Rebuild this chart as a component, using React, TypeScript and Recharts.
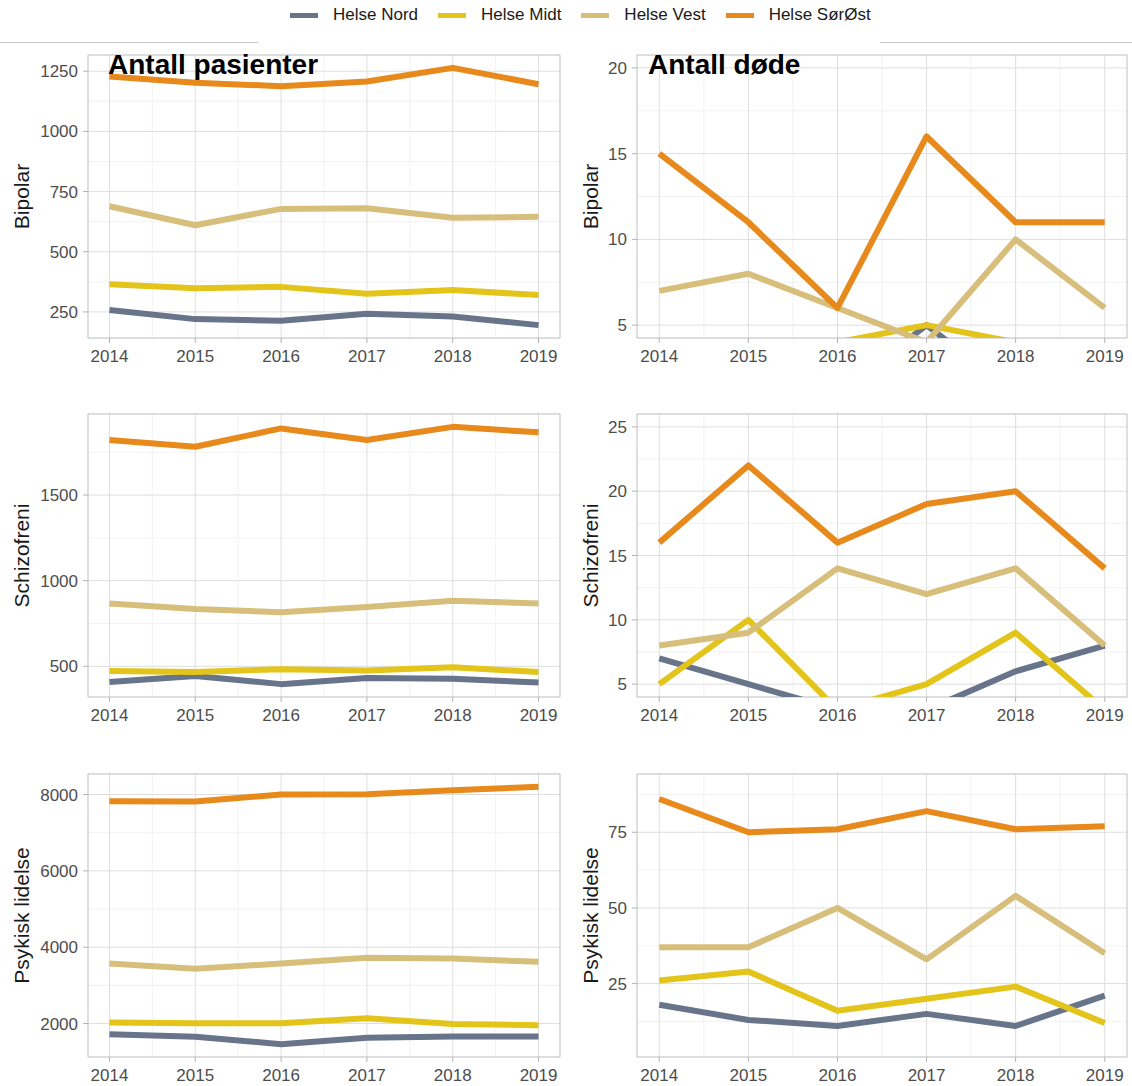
import { CartesianGrid, Line, LineChart, ReferenceArea, XAxis, YAxis } from "recharts";

const YEARS = [2014, 2015, 2016, 2017, 2018, 2019];

type RegionKey = "nord" | "midt" | "vest" | "sorost";
const REGION_KEYS: RegionKey[] = ["nord", "midt", "vest", "sorost"];
const REGION_NAMES = ["Helse Nord", "Helse Midt", "Helse Vest", "Helse SørØst"];

// Antall pasienter
const BIPOLAR_PASIENTER = {
  nord: [258, 220, 213, 242, 231, 195],
  midt: [365, 348, 354, 325, 341, 320],
  vest: [689, 610, 678, 681, 641, 645],
  sorost: [1228, 1202, 1188, 1207, 1264, 1196],
};
const SCHIZOFRENI_PASIENTER = {
  nord: [409, 444, 396, 432, 428, 405],
  midt: [473, 467, 483, 475, 494, 467],
  vest: [867, 835, 815, 846, 883, 867],
  sorost: [1821, 1782, 1889, 1821, 1898, 1866],
};
const PSYKISK_PASIENTER = {
  nord: [1722, 1652, 1461, 1626, 1661, 1661],
  midt: [2026, 2009, 2009, 2139, 1991, 1957],
  vest: [3574, 3435, 3574, 3722, 3704, 3617],
  sorost: [7826, 7817, 8000, 8009, 8113, 8200],
};

// Antall døde
const BIPOLAR_DODE = {
  nord: [3, 2, 1, 5, 1, 2],
  midt: [2, 3, 4, 5, 4, 3],
  vest: [7, 8, 6, 4, 10, 6],
  sorost: [15, 11, 6, 16, 11, 11],
};
const SCHIZOFRENI_DODE = {
  nord: [7, 5, 3, 3, 6, 8],
  midt: [5, 10, 3, 5, 9, 3],
  vest: [8, 9, 14, 12, 14, 8],
  sorost: [16, 22, 16, 19, 20, 14],
};
const PSYKISK_DODE = {
  nord: [18, 13, 11, 15, 11, 21],
  midt: [26, 29, 16, 20, 24, 12],
  vest: [37, 37, 50, 33, 54, 35],
  sorost: [86, 75, 76, 82, 76, 77],
};

// tick labels
const BIPOLAR_PAS_TICKS = [250, 500, 750, 1000, 1250];
const SCHIZO_PAS_TICKS = [500, 1000, 1500];
const PSYKISK_PAS_TICKS = [2000, 4000, 6000, 8000];
const BIPOLAR_DODE_TICKS = [5, 10, 15, 20];
const SCHIZO_DODE_TICKS = [5, 10, 15, 20, 25];
const PSYKISK_DODE_TICKS = [25, 50, 75];

// y limits used in the døde panels (lines run out of the panel)
const BIPOLAR_DODE_YLIM: [number, number] = [5, 20];
const SCHIZO_DODE_YLIM: [number, number] = [5, 25];
const PSYKISK_DODE_YLIM: [number, number] = [5, 90];

const COLORS: Record<RegionKey, string> = {
  nord: "#68748a",
  midt: "#e3c41a",
  vest: "#d7bf7b",
  sorost: "#e8891c",
};

const FONT = '"Liberation Sans", Arial, Helvetica, sans-serif';

const X_DOMAIN: [number, number] = [2013.75, 2019.25];
const MINOR_X = [2014.5, 2015.5, 2016.5, 2017.5, 2018.5];

const ROW_TOPS = [55, 414, 774];
const PLOT_H = 283;
const MT = 5;
const XAXIS_H = 32;

const COLS = [
  { left: 0, axisWidth: 88, plotWidth: 472, right: 6, labelOffset: 22 },
  { left: 570, axisWidth: 67, plotWidth: 490, right: 5, labelOffset: 21 },
];

type PanelDef = {
  row: number;
  col: number;
  label: string;
  values: Record<RegionKey, number[]>;
  ticks: number[];
  ylim: [number, number] | null;
};

const PANELS: PanelDef[] = [
  { row: 0, col: 0, label: "Bipolar", values: BIPOLAR_PASIENTER, ticks: BIPOLAR_PAS_TICKS, ylim: null },
  { row: 0, col: 1, label: "Bipolar", values: BIPOLAR_DODE, ticks: BIPOLAR_DODE_TICKS, ylim: BIPOLAR_DODE_YLIM },
  { row: 1, col: 0, label: "Schizofreni", values: SCHIZOFRENI_PASIENTER, ticks: SCHIZO_PAS_TICKS, ylim: null },
  { row: 1, col: 1, label: "Schizofreni", values: SCHIZOFRENI_DODE, ticks: SCHIZO_DODE_TICKS, ylim: SCHIZO_DODE_YLIM },
  { row: 2, col: 0, label: "Psykisk lidelse", values: PSYKISK_PASIENTER, ticks: PSYKISK_PAS_TICKS, ylim: null },
  { row: 2, col: 1, label: "Psykisk lidelse", values: PSYKISK_DODE, ticks: PSYKISK_DODE_TICKS, ylim: PSYKISK_DODE_YLIM },
];

// ggplot style 5% expansion
function expand([lo, hi]: [number, number]): [number, number] {
  const pad = (hi - lo) * 0.05;
  return [lo - pad, hi + pad];
}

function minorTicks(ticks: number[], dom: [number, number]) {
  const step = ticks[1] - ticks[0];
  const out = [ticks[0] - step / 2, ...ticks.map((t) => t + step / 2)];
  return out.filter((v) => v > dom[0] && v < dom[1]);
}

function Panel({ p }: { p: PanelDef }) {
  const col = COLS[p.col];
  const data = YEARS.map((year, i) => ({
    year,
    nord: p.values.nord[i],
    midt: p.values.midt[i],
    vest: p.values.vest[i],
    sorost: p.values.sorost[i],
  }));
  const all = REGION_KEYS.flatMap((k) => p.values[k]);
  const dom = expand(p.ylim ?? [Math.min(...all), Math.max(...all)]);
  const minorY = minorTicks(p.ticks, dom);

  return (
    <div style={{ position: "absolute", left: col.left, top: ROW_TOPS[p.row] - MT }}>
      <LineChart
        width={col.axisWidth + col.plotWidth + col.right}
        height={MT + PLOT_H + XAXIS_H}
        data={data}
        margin={{ top: MT, right: col.right, bottom: 0, left: 0 }}
      >
        <CartesianGrid stroke="#ececec" strokeWidth={0.7} horizontalValues={minorY} verticalValues={MINOR_X} />
        <CartesianGrid stroke="#dedede" strokeWidth={1} horizontalValues={p.ticks} verticalValues={YEARS} />
        <XAxis
          type="number"
          dataKey="year"
          domain={X_DOMAIN}
          allowDataOverflow
          ticks={YEARS}
          interval={0}
          height={XAXIS_H}
          axisLine={false}
          tickSize={5}
          tickMargin={7}
          tickLine={{ stroke: "#b3b3b3" }}
          tick={{ fontSize: 17, fill: "#4d4d4d", fontFamily: FONT }}
        />
        <YAxis
          type="number"
          domain={dom}
          allowDataOverflow
          ticks={p.ticks}
          interval={0}
          width={col.axisWidth}
          axisLine={false}
          tickSize={5}
          tickMargin={5}
          tickLine={{ stroke: "#b3b3b3" }}
          tick={{ fontSize: 17, fill: "#4d4d4d", fontFamily: FONT }}
          label={{
            value: p.label,
            angle: -90,
            position: "insideLeft",
            offset: col.labelOffset,
            style: { textAnchor: "middle", fontSize: 21, fill: "#1a1a1a", fontFamily: FONT },
          }}
        />
        {REGION_KEYS.map((k, i) => (
          <Line
            key={k}
            type="linear"
            dataKey={k}
            name={REGION_NAMES[i]}
            stroke={COLORS[k]}
            strokeWidth={6}
            strokeLinejoin="round"
            dot={false}
            activeDot={false}
            isAnimationActive={false}
          />
        ))}
        <ReferenceArea
          x1={X_DOMAIN[0]}
          x2={X_DOMAIN[1]}
          y1={dom[0]}
          y2={dom[1]}
          fill="none"
          stroke="#bdbdbd"
          strokeWidth={1}
          ifOverflow="visible"
        />
      </LineChart>
    </div>
  );
}

export default function App() {
  return (
    <div
      style={{
        position: "absolute",
        left: 0,
        top: 0,
        width: 1132,
        height: 1086,
        background: "#fff",
        fontFamily: FONT,
        overflow: "hidden",
      }}
    >
      <div style={{ position: "absolute", left: 290, top: 0, height: 30, display: "flex", alignItems: "center" }}>
        {REGION_KEYS.map((k, i) => (
          <div key={k} style={{ display: "flex", alignItems: "center", marginRight: 20 }}>
            <div style={{ width: 28, height: 5, background: COLORS[k], marginRight: 15 }} />
            <span style={{ fontSize: 17, color: "#1a1a1a" }}>{REGION_NAMES[i]}</span>
          </div>
        ))}
      </div>

      <div style={{ position: "absolute", left: 0, top: 42, width: 258, height: 1, background: "#c8c8c8" }} />
      <div style={{ position: "absolute", left: 880, top: 42, width: 252, height: 1, background: "#c8c8c8" }} />

      {PANELS.map((p, i) => (
        <Panel key={i} p={p} />
      ))}

      <div style={{ position: "absolute", left: 108, top: 51, fontSize: 28, lineHeight: "28px", fontWeight: 700, color: "#000" }}>
        Antall pasienter
      </div>
      <div style={{ position: "absolute", left: 648, top: 51, fontSize: 28, lineHeight: "28px", fontWeight: 700, color: "#000" }}>
        Antall døde
      </div>
    </div>
  );
}
